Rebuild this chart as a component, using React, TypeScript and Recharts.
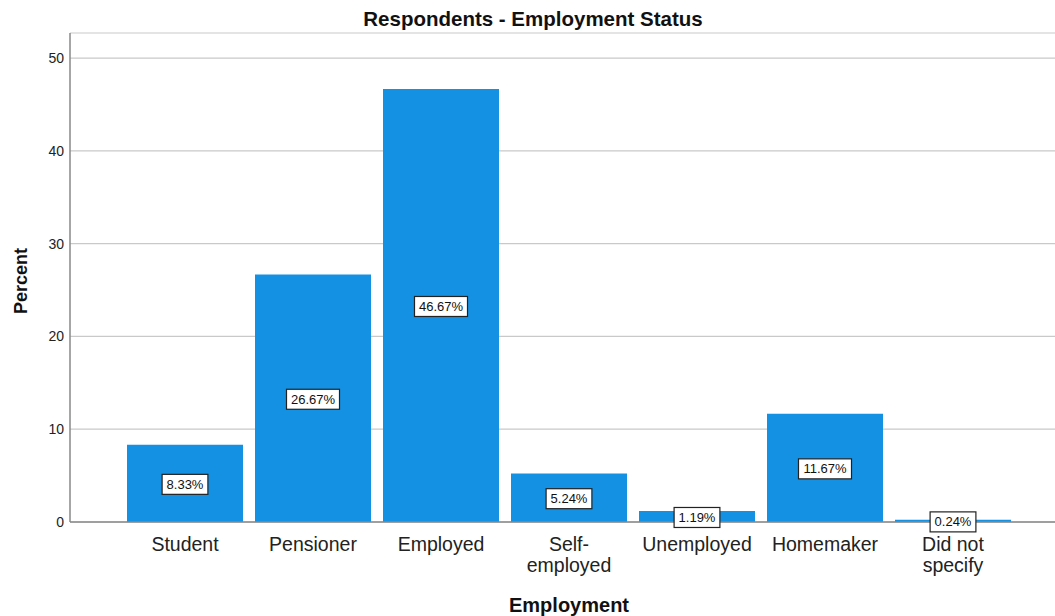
import { Bar, BarChart, CartesianGrid, LabelList, XAxis, YAxis, Label } from 'recharts';

const categories = ['Student', 'Pensioner', 'Employed', 'Self-employed', 'Unemployed', 'Homemaker', 'Did not specify'];
const percents = [8.33, 26.67, 46.67, 5.24, 1.19, 11.67, 0.24];
const yTicks = [0, 10, 20, 30, 40, 50];

const data = categories.map((name, i) => ({ name, percent: percents[i] }));

const FONT = '"Liberation Sans", Arial, sans-serif';

// split long category names onto two lines like the original
const wrap = (s: string): string[] => {
  if (s.includes('-')) {
    const i = s.indexOf('-');
    return [s.slice(0, i + 1), s.slice(i + 1)];
  }
  if (s.length > 11 && s.includes(' ')) {
    const i = s.lastIndexOf(' ');
    return [s.slice(0, i), s.slice(i + 1)];
  }
  return [s];
};

const CategoryTick = (props: any) => {
  const { x, y, payload } = props;
  const lines = wrap(payload.value);
  return (
    <text x={x} y={y} textAnchor="middle" fontFamily={FONT} fontSize={19.5} fill="#222">
      {lines.map((l, i) => (
        <tspan key={i} x={x} dy={21}>
          {l}
        </tspan>
      ))}
    </text>
  );
};

const charW = (c: string) => (c === '.' ? 3.6 : c === '%' ? 11.6 : 7.2);

const BoxLabel = (props: any) => {
  const { x, y, width, height, value } = props;
  const txt = `${Number(value).toFixed(2)}%`;
  const tw = txt.split('').reduce((a, c) => a + charW(c), 0);
  const w = tw + 9;
  const h = 20;
  const cx = x + width / 2;
  const cy = y + height / 2 + 1;
  return (
    <g>
      <rect x={cx - w / 2} y={cy - h / 2} width={w} height={h} fill="#fff" stroke="#222" strokeWidth={1.2} />
      <text x={cx} y={cy + 4.5} textAnchor="middle" fontFamily={FONT} fontSize={13} fill="#111">
        {txt}
      </text>
    </g>
  );
};

export default function App() {
  return (
    <div style={{ position: 'absolute', left: 0, top: 0, width: 1055, height: 616, background: '#fff' }}>
      <BarChart
        width={1055}
        height={616}
        data={data}
        margin={{ top: 33, right: 0, bottom: 0, left: 0 }}
        barCategoryGap={12}
      >
        <text x={533} y={26} textAnchor="middle" fontFamily={FONT} fontSize={20.5} fontWeight="bold" fill="#111">
          Respondents - Employment Status
        </text>
        <CartesianGrid vertical={false} stroke="#c9c9c9" strokeWidth={1.2} />
        <XAxis
          dataKey="name"
          height={94}
          tick={<CategoryTick />}
          tickLine={false}
          axisLine={{ stroke: '#888', strokeWidth: 1.5 }}
          padding={{ left: 51, right: 38 }}
          interval={0}
        >
          <Label
            content={() => (
              <text x={569} y={612} textAnchor="middle" fontFamily={FONT} fontSize={20} fontWeight="bold" fill="#111">
                Employment
              </text>
            )}
          />
        </XAxis>
        <YAxis
          width={70}
          domain={[0, 52.7]}
          ticks={yTicks}
          tickLine={false}
          tickMargin={0}
          tick={{ fontFamily: FONT, fontSize: 14, fill: '#222' }}
          axisLine={{ stroke: '#888', strokeWidth: 1.5 }}
        >
          <Label
            content={() => (
              <text
                x={27}
                y={281}
                transform="rotate(-90 27 281)"
                textAnchor="middle"
                fontFamily={FONT}
                fontSize={18}
                fontWeight="bold"
                fill="#111"
              >
                Percent
              </text>
            )}
          />
        </YAxis>
        <Bar dataKey="percent" fill="#1591e3" barSize={116} isAnimationActive={false}>
          <LabelList dataKey="percent" content={<BoxLabel />} />
        </Bar>
      </BarChart>
    </div>
  );
}
